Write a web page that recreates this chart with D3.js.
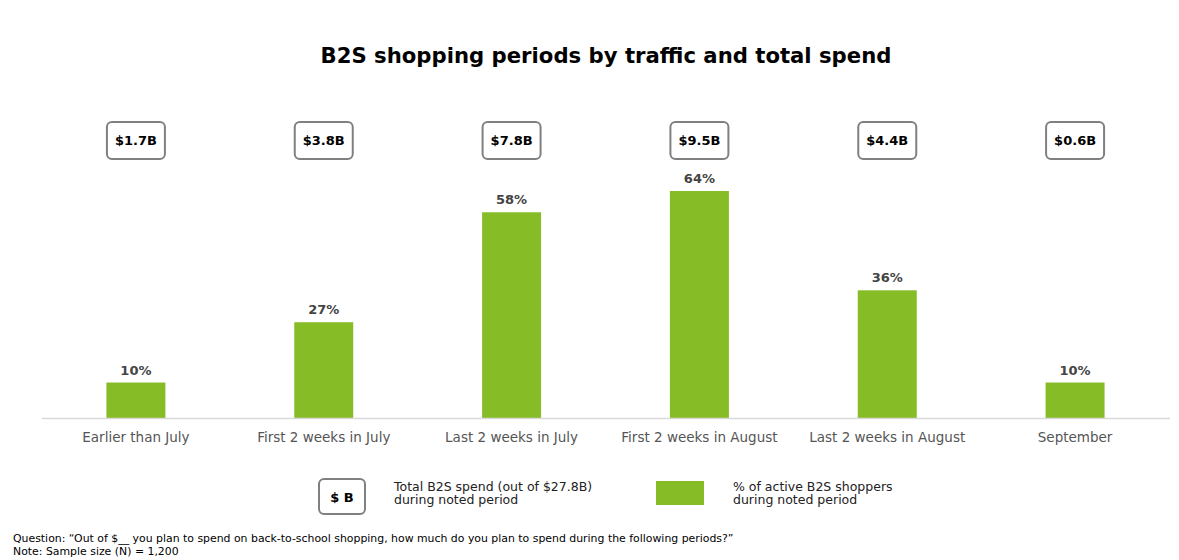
<!DOCTYPE html>
<html><head><meta charset="utf-8">
<script src="https://cdn.jsdelivr.net/npm/d3@7"></script>
<style>body{margin:0;background:#fff;} svg{display:block;}</style>
</head><body>
<script>
const categories = ["Earlier than July","First 2 weeks in July","Last 2 weeks in July","First 2 weeks in August","Last 2 weeks in August","September"];
const shopperPct = [10, 27, 58, 64, 36, 10];
const spendLabels = ["$1.7B","$3.8B","$7.8B","$9.5B","$4.4B","$0.6B"];

const W = 1179, H = 560;
const font = "Verdana, 'DejaVu Sans', sans-serif";
const green = "#86bc25";
const svg = d3.select("body").append("svg").attr("width", W).attr("height", H).style("font-family", font);

svg.append("text").attr("x", 606).attr("y", 63).attr("text-anchor", "middle")
  .attr("font-size", 21.2).attr("font-weight", "bold").attr("fill", "#000")
  .text("B2S shopping periods by traffic and total spend");

const p = 0.686;
const x = d3.scaleBand().domain(categories).range([42, 1169]).paddingInner(p).paddingOuter(p/2);
const y = d3.scaleLinear().domain([0, 100]).range([418, 63.3]);

svg.selectAll("rect.bar").data(categories).join("rect").attr("class","bar")
  .attr("x", d => x(d)).attr("width", x.bandwidth())
  .attr("y", (d,i) => y(shopperPct[i])).attr("height", (d,i) => y(0) - y(shopperPct[i]))
  .attr("fill", green);

const axis = svg.append("g").attr("transform", `translate(0,${y(0)})`)
  .call(d3.axisBottom(x).tickSize(0).tickPadding(14));
axis.select(".domain").attr("stroke", "#d9d9d9").attr("stroke-width", 1.5).attr("d", "M42,0.5H1170");
axis.selectAll("text").attr("font-size", 13.5).attr("fill", "#555").attr("font-family", font);

svg.selectAll("text.val").data(categories).join("text").attr("class","val")
  .attr("x", d => x(d) + x.bandwidth()/2).attr("y", (d,i) => y(shopperPct[i]) - 8)
  .attr("text-anchor","middle").attr("font-size", 13).attr("font-weight","bold").attr("fill","#444")
  .text((d,i) => shopperPct[i] + "%");

const boxes = svg.selectAll("g.spend").data(categories).join("g").attr("class","spend")
  .attr("transform", d => `translate(${x(d) + x.bandwidth()/2},140.5)`);
boxes.append("rect").attr("x", -29).attr("y", -18.5).attr("width", 58).attr("height", 37)
  .attr("rx", 5).attr("fill", "#fff").attr("stroke", "#808080").attr("stroke-width", 2);
boxes.append("text").attr("text-anchor","middle").attr("dy", "0.36em").attr("font-size", 13)
  .attr("font-weight","bold").attr("fill","#000").text((d,i) => spendLabels[i]);

// legend
const lg = svg.append("g");
lg.append("rect").attr("x", 319).attr("y", 479).attr("width", 46).attr("height", 35).attr("rx", 5)
  .attr("fill","#fff").attr("stroke","#808080").attr("stroke-width", 2);
lg.append("text").attr("x", 342).attr("y", 497).attr("dy","0.36em").attr("text-anchor","middle")
  .attr("font-size", 13).attr("font-weight","bold").attr("fill","#000").text("$ B");
lg.append("text").attr("x", 394).attr("y", 491).attr("font-size", 12.5).attr("fill","#222").text("Total B2S spend (out of $27.8B)");
lg.append("text").attr("x", 394).attr("y", 504).attr("font-size", 12.5).attr("fill","#222").text("during noted period");
lg.append("rect").attr("x", 656).attr("y", 481).attr("width", 48).attr("height", 24).attr("fill", green);
lg.append("text").attr("x", 733).attr("y", 491).attr("font-size", 12.5).attr("fill","#222").text("% of active B2S shoppers");
lg.append("text").attr("x", 733).attr("y", 504).attr("font-size", 12.5).attr("fill","#222").text("during noted period");

svg.append("text").attr("x", 13).attr("y", 542).attr("font-size", 10.9).attr("fill","#000")
  .text("Question: \u201cOut of $__ you plan to spend on back-to-school shopping, how much do you plan to spend during the following periods?\u201d");
svg.append("text").attr("x", 13).attr("y", 555).attr("font-size", 10.9).attr("fill","#000")
  .text("Note: Sample size (N) = 1,200");
</script>
</body></html>
